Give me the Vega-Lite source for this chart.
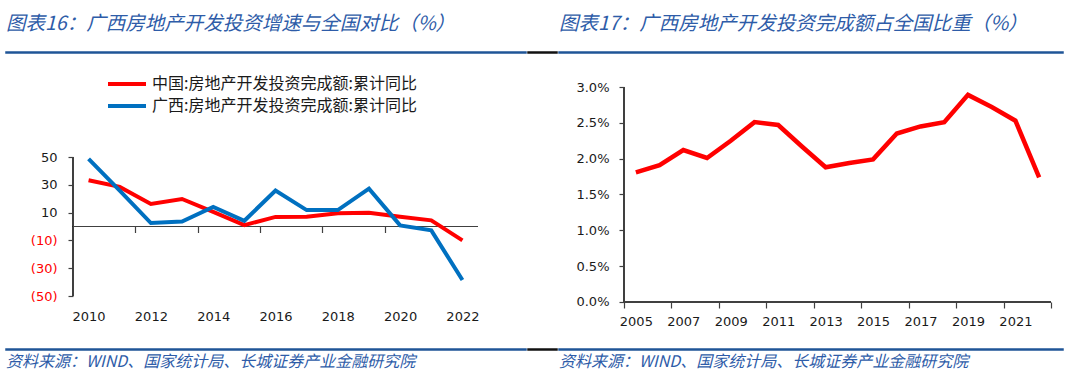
{
  "$schema": "https://vega.github.io/schema/vega-lite/v6.json",
  "background": "white",
  "padding": {"left": 5, "top": 13, "right": 0, "bottom": 0},
  "config": {
    "view": {"stroke": null},
    "font": "DejaVu Sans",
    "axis": {"labelFont": "DejaVu Sans", "labelFontSize": 13, "labelColor": "#1a1a1a", "domainColor": "#404040", "tickColor": "#404040", "domainWidth": 1.2, "tickWidth": 1.2, "grid": false, "title": null, "labelFlush": false, "labelOverlap": false},
    "title": {"font": "Noto Sans CJK SC", "fontStyle": "italic", "fontWeight": "normal", "color": "#2E5CA8", "anchor": "start", "frame": "group"}
  },
  "datasets": {
    "yoy": [
      {"year": 2010, "series": "中国:房地产开发投资完成额:累计同比", "value": 33.3},
      {"year": 2011, "series": "中国:房地产开发投资完成额:累计同比", "value": 28.5},
      {"year": 2012, "series": "中国:房地产开发投资完成额:累计同比", "value": 16.2},
      {"year": 2013, "series": "中国:房地产开发投资完成额:累计同比", "value": 19.8},
      {"year": 2014, "series": "中国:房地产开发投资完成额:累计同比", "value": 10.5},
      {"year": 2015, "series": "中国:房地产开发投资完成额:累计同比", "value": 1.0},
      {"year": 2016, "series": "中国:房地产开发投资完成额:累计同比", "value": 6.9},
      {"year": 2017, "series": "中国:房地产开发投资完成额:累计同比", "value": 7.0},
      {"year": 2018, "series": "中国:房地产开发投资完成额:累计同比", "value": 9.5},
      {"year": 2019, "series": "中国:房地产开发投资完成额:累计同比", "value": 9.9},
      {"year": 2020, "series": "中国:房地产开发投资完成额:累计同比", "value": 7.0},
      {"year": 2021, "series": "中国:房地产开发投资完成额:累计同比", "value": 4.4},
      {"year": 2022, "series": "中国:房地产开发投资完成额:累计同比", "value": -10.0},
      {"year": 2010, "series": "广西:房地产开发投资完成额:累计同比", "value": 48.6},
      {"year": 2011, "series": "广西:房地产开发投资完成额:累计同比", "value": 25.8},
      {"year": 2012, "series": "广西:房地产开发投资完成额:累计同比", "value": 2.5},
      {"year": 2013, "series": "广西:房地产开发投资完成额:累计同比", "value": 3.6},
      {"year": 2014, "series": "广西:房地产开发投资完成额:累计同比", "value": 14.0},
      {"year": 2015, "series": "广西:房地产开发投资完成额:累计同比", "value": 4.1},
      {"year": 2016, "series": "广西:房地产开发投资完成额:累计同比", "value": 25.9},
      {"year": 2017, "series": "广西:房地产开发投资完成额:累计同比", "value": 11.8},
      {"year": 2018, "series": "广西:房地产开发投资完成额:累计同比", "value": 11.8},
      {"year": 2019, "series": "广西:房地产开发投资完成额:累计同比", "value": 27.2},
      {"year": 2020, "series": "广西:房地产开发投资完成额:累计同比", "value": 0.8},
      {"year": 2021, "series": "广西:房地产开发投资完成额:累计同比", "value": -2.8},
      {"year": 2022, "series": "广西:房地产开发投资完成额:累计同比", "value": -38.5}
    ],
    "share": [
      {"year": 2005, "value": 0.0181},
      {"year": 2006, "value": 0.0191},
      {"year": 2007, "value": 0.0212},
      {"year": 2008, "value": 0.0201},
      {"year": 2009, "value": 0.0225},
      {"year": 2010, "value": 0.0251},
      {"year": 2011, "value": 0.0247},
      {"year": 2012, "value": 0.0217},
      {"year": 2013, "value": 0.0188},
      {"year": 2014, "value": 0.0194},
      {"year": 2015, "value": 0.0199},
      {"year": 2016, "value": 0.0235},
      {"year": 2017, "value": 0.0245},
      {"year": 2018, "value": 0.0251},
      {"year": 2019, "value": 0.0289},
      {"year": 2020, "value": 0.0272},
      {"year": 2021, "value": 0.0253},
      {"year": 2022, "value": 0.0174}
    ]
  },
  "spacing": 0,
  "hconcat": [
    {
      "columns": 1,
      "bounds": "flush",
      "spacing": 10,
      "concat": [
        {
          "width": 520, "height": 1,
          "data": {"values": [{}]},
          "mark": {"type": "point", "opacity": 0},
          "encoding": {},
          "view": {"stroke": "#1F5597", "strokeWidth": 1.5},
          "title": {"text": "图表16：广西房地产开发投资增速与全国对比（%）", "fontSize": 19.5, "offset": 15}
        },
        {
          "width": 520, "height": 276,
          "data": {"name": "yoy"},
          "encoding": {
            "y": {"type": "quantitative", "scale": {"domain": [-80.935, 117.626], "nice": false, "zero": false},
              "axis": {"offset": -67, "domain": false, "values": [-50, -30, -10, 10, 30, 50], "labelExpr": "datum.value < 0 ? '(' + format(-datum.value, 'd') + ')' : format(datum.value, 'd')", "labelColor": {"condition": {"test": "datum.value < 0", "value": "#FF0000"}, "value": "#1a1a1a"}, "tickSize": 5, "labelPadding": 11}}
          },
          "layer": [
            {
              "mark": {"type": "rule", "color": "#404040", "strokeWidth": 1.2},
              "encoding": {
                "x": {"datum": 2009.5, "type": "quantitative", "scale": {"domain": [2007.3494, 2024.0408], "nice": false, "zero": false},
                  "axis": {"orient": "bottom", "offset": -112.5, "values": [2011.5, 2013.5, 2015.5, 2017.5, 2019.5], "labels": false, "ticks": true, "tickSize": 6, "domain": false}},
                "y": {"datum": -50, "type": "quantitative"},
                "y2": {"datum": 50}
              }
            },
            {
              "mark": {"type": "rule", "color": "#404040", "strokeWidth": 1.2},
              "encoding": {
                "x": {"datum": 2009.5, "type": "quantitative", "axis": null},
                "x2": {"datum": 2022.5},
                "y": {"datum": 0, "type": "quantitative"}
              }
            },
            {
              "mark": {"type": "line", "strokeWidth": 4},
              "encoding": {
                "x": {"field": "year", "type": "quantitative",
                  "axis": {"orient": "bottom", "offset": -43, "values": [2010, 2012, 2014, 2016, 2018, 2020, 2022], "format": "d", "domain": false, "ticks": false, "tickSize": 0, "labelPadding": 14}},
                "y": {"field": "value", "type": "quantitative"},
                "color": {"field": "series", "type": "nominal",
                  "scale": {"domain": ["中国:房地产开发投资完成额:累计同比", "广西:房地产开发投资完成额:累计同比"], "range": ["#FF0000", "#0070C0"]},
                  "legend": {"orient": "none", "legendX": 100, "legendY": 24, "title": null, "direction": "vertical", "symbolType": "stroke", "symbolSize": 1444, "symbolStrokeWidth": 4, "clipHeight": 16, "labelFont": "Noto Sans CJK SC", "labelFontSize": 16, "labelLimit": 500, "labelColor": "#1a1a1a", "rowPadding": 6, "labelOffset": 4}}
              }
            }
          ],
          "resolve": {"axis": {"x": "independent"}}
        },
        {
          "width": 520, "height": 1,
          "data": {"values": [{}]},
          "mark": {"type": "point", "opacity": 0},
          "encoding": {},
          "view": {"stroke": "#1F5597", "strokeWidth": 1.5},
          "title": {"text": "资料来源：WIND、国家统计局、长城证券产业金融研究院", "orient": "bottom", "fontSize": 16, "offset": 2}
        }
      ]
    },
    {
      "columns": 1,
      "bounds": "flush",
      "spacing": 10,
      "concat": [
        {
          "width": 29, "height": 1,
          "data": {"values": [{}]},
          "mark": {"type": "point", "opacity": 0},
          "encoding": {},
          "view": {"stroke": "#111111", "strokeWidth": 1.5}
        },
        {
          "width": 29, "height": 276,
          "data": {"values": [{}]},
          "mark": {"type": "point", "opacity": 0},
          "encoding": {}
        },
        {
          "width": 29, "height": 1,
          "data": {"values": [{}]},
          "mark": {"type": "point", "opacity": 0},
          "encoding": {},
          "view": {"stroke": "#111111", "strokeWidth": 1.5}
        }
      ]
    },
    {
      "columns": 1,
      "bounds": "flush",
      "spacing": 10,
      "concat": [
        {
          "width": 504, "height": 1,
          "data": {"values": [{}]},
          "mark": {"type": "point", "opacity": 0},
          "encoding": {},
          "view": {"stroke": "#1F5597", "strokeWidth": 1.5},
          "title": {"text": "图表17：广西房地产开发投资完成额占全国比重（%）", "fontSize": 19.5, "offset": 15}
        },
        {
          "width": 504, "height": 276,
          "data": {"name": "share"},
          "encoding": {
            "y": {"type": "quantitative", "scale": {"domain": [-0.005163, 0.033349], "nice": false, "zero": false},
              "axis": {"offset": -65, "domain": false, "values": [0, 0.005, 0.01, 0.015, 0.02, 0.025, 0.03], "format": ".1%", "tickSize": 5, "labelPadding": 10}}
          },
          "layer": [
            {
              "mark": {"type": "rule", "color": "#404040", "strokeWidth": 1.2},
              "encoding": {
                "x": {"datum": 2004.5, "type": "quantitative", "scale": {"domain": [2001.75995, 2023.00585], "nice": false, "zero": false},
                  "axis": {"orient": "bottom", "offset": -37, "values": [2004.5, 2006.5, 2008.5, 2010.5, 2012.5, 2014.5, 2016.5, 2018.5, 2020.5, 2022.5], "labels": false, "ticks": true, "tickSize": 6, "domain": false}},
                "y": {"datum": 0, "type": "quantitative"},
                "y2": {"datum": 0.03}
              }
            },
            {
              "mark": {"type": "rule", "color": "#404040", "strokeWidth": 1.2},
              "encoding": {
                "x": {"datum": 2004.5, "type": "quantitative", "axis": null},
                "x2": {"datum": 2022.5},
                "y": {"datum": 0, "type": "quantitative"}
              }
            },
            {
              "mark": {"type": "line", "strokeWidth": 4.5, "color": "#FF0000"},
              "encoding": {
                "x": {"field": "year", "type": "quantitative",
                  "axis": {"orient": "bottom", "offset": -37, "values": [2005, 2007, 2009, 2011, 2013, 2015, 2017, 2019, 2021], "format": "d", "domain": false, "ticks": false, "tickSize": 0, "labelPadding": 13}},
                "y": {"field": "value", "type": "quantitative"}
              }
            }
          ],
          "resolve": {"axis": {"x": "independent"}}
        },
        {
          "width": 504, "height": 1,
          "data": {"values": [{}]},
          "mark": {"type": "point", "opacity": 0},
          "encoding": {},
          "view": {"stroke": "#1F5597", "strokeWidth": 1.5},
          "title": {"text": "资料来源：WIND、国家统计局、长城证券产业金融研究院", "orient": "bottom", "fontSize": 16, "offset": 2}
        }
      ]
    }
  ]
}
